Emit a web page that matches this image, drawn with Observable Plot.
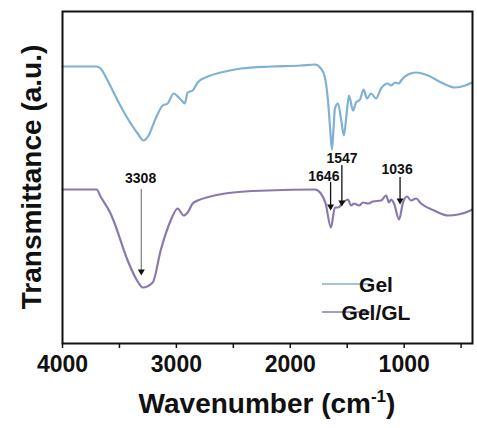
<!DOCTYPE html>
<html>
<head>
<meta charset="utf-8">
<script src="https://cdn.jsdelivr.net/npm/d3@7"></script>
<script src="https://cdn.jsdelivr.net/npm/@observablehq/plot@0.6"></script>
<style>
  html, body { margin: 0; padding: 0; background: #fff; }
  #chart { position: relative; width: 477px; height: 428px; }
  svg { font-family: Arial, "Liberation Sans", sans-serif; }
</style>
</head>
<body>
<div id="chart"></div>
<script>
// ---- data ----
const gelWavenumber = [4000, 3700, 3666, 3604, 3516, 3428, 3340, 3288, 3244, 3182, 3120, 3077, 3024, 2980, 2945, 2927, 2901, 2857, 2813, 2725, 2610, 2434, 2171, 1907, 1784, 1731, 1700, 1669, 1650, 1634, 1620, 1608, 1581, 1555, 1529, 1505, 1485, 1449, 1423, 1388, 1356, 1326, 1291, 1247, 1203, 1142, 1115, 1080, 1045, 1027, 966, 895, 790, 675, 552, 464, 403];
const gelTransmittance = [277, 277, 275, 263, 243, 225, 210, 203, 208, 225, 238, 240, 250, 246, 242, 240, 251, 253, 261, 267, 271, 275, 277, 278, 279, 275, 268, 243, 215, 194, 215, 235, 240, 225, 208, 230, 248, 233, 241, 244, 254, 245, 250, 245, 255, 260, 258, 261, 260, 263, 269, 271, 268, 261, 256, 258, 261];

const gelGLWavenumber = [4000, 3700, 3666, 3578, 3552, 3428, 3340, 3296, 3208, 3138, 3050, 2989, 2936, 2901, 2857, 2813, 2700, 2500, 2200, 1784, 1731, 1690, 1643, 1608, 1580, 1537, 1493, 1466, 1440, 1396, 1361, 1317, 1273, 1203, 1159, 1133, 1115, 1089, 1045, 1010, 975, 940, 895, 852, 737, 614, 526, 438, 403];
const gelGLTransmittance = [154, 154, 147, 130, 123, 83, 62, 56, 61, 93, 123, 135, 128, 131, 140, 143, 147, 151, 153, 154, 150, 140, 116, 136, 136, 141, 144, 138, 140, 138, 141, 140, 142, 143, 148, 141, 144, 140, 124, 141, 147, 143, 145, 140, 133, 128, 129, 132, 134];

const seriesNames = ["Gel", "Gel/GL"];
const seriesColors = ["#7fb1d6", "#8b79ad"];

const peakLabels = ["3308", "1646", "1547", "1036"];
const peakWavenumber = [3308, 1646, 1547, 1036];
const arrowTop = [154, 161, 178, 166];
const arrowTip = [72, 137, 141, 143];
const labelWavenumber = [3314, 1705, 1546, 1062];
const labelLevel = [165, 167, 185, 174];
const arrowColors = ["#8a8a8a", "#111", "#111", "#111"];

const xTicks = [4000, 3500, 3000, 2500, 2000, 1500, 1000, 500];

// ---- build tables ----
const gel = gelWavenumber.map((w, i) => ({wn: w, t: gelTransmittance[i]}));
const gelGL = gelGLWavenumber.map((w, i) => ({wn: w, t: gelGLTransmittance[i]}));
const peaks = peakLabels.map((l, i) => ({
  label: l, wn: peakWavenumber[i], top: arrowTop[i], tip: arrowTip[i],
  lwn: labelWavenumber[i], ly: labelLevel[i], color: arrowColors[i]
}));

const plot = Plot.plot({
  width: 477,
  height: 428,
  marginLeft: 62,
  marginRight: 5,
  marginTop: 11,
  marginBottom: 85,
  style: {fontFamily: "Arial, 'Liberation Sans', sans-serif", background: "#fff"},
  x: {domain: [4000, 400]},
  y: {domain: [0, 332], axis: null},
  marks: [
    Plot.axisX({
      ticks: xTicks,
      tickFormat: d => d % 1000 === 0 ? String(d) : "",
      tickSize: 5,
      tickPadding: 7,
      fontSize: 23,
      fontWeight: "bold",
      label: null,
      stroke: "#111",
      strokeWidth: 1.5,
      color: "#111"
    }),
    Plot.line(gel, {x: "wn", y: "t", stroke: seriesColors[0], strokeWidth: 2.2, curve: "monotone-x"}),
    Plot.line(gelGL, {x: "wn", y: "t", stroke: seriesColors[1], strokeWidth: 2.2, curve: "monotone-x"}),
    Plot.ruleX(peaks, {x: "wn", y1: "top", y2: "tip", stroke: "color", strokeWidth: 1.3}),
    Plot.dot(peaks, {x: "wn", y: "tip", symbol: "triangle", r: 2.6, fill: "#111", stroke: "none", rotate: 180}),
    Plot.text(peaks, {x: "lwn", y: "ly", text: "label", fontSize: 14, fontWeight: "bold", fill: "#111", lineAnchor: "middle"}),
    Plot.frame({stroke: "#111", strokeWidth: 2})
  ]
});

const svg = d3.select(plot);

// y axis title
svg.append("text")
  .attr("transform", "translate(41,177) rotate(-90)")
  .attr("text-anchor", "middle")
  .attr("font-size", 28)
  .attr("font-weight", "bold")
  .attr("fill", "#111")
  .text("Transmittance (a.u.)");

// x axis title with superscript
const xt = svg.append("text")
  .attr("x", 267)
  .attr("y", 413)
  .attr("text-anchor", "middle")
  .attr("font-size", 28)
  .attr("font-weight", "bold")
  .attr("fill", "#111");
xt.append("tspan").text("Wavenumber (cm");
xt.append("tspan").attr("font-size", 17).attr("dy", -11).text("-1");
xt.append("tspan").attr("dy", 11).text(")");

// legend
const legendY = [284, 312];
seriesNames.forEach((name, i) => {
  svg.append("line")
    .attr("x1", 322).attr("x2", 370)
    .attr("y1", legendY[i]).attr("y2", legendY[i])
    .attr("stroke", seriesColors[i]).attr("stroke-width", 1.5);
  svg.append("text")
    .attr("x", 376).attr("y", legendY[i])
    .attr("dy", "0.36em")
    .attr("font-size", 21)
    .attr("font-weight", "bold")
    .attr("fill", "#111")
    .text(name);
});

document.getElementById("chart").appendChild(plot);
</script>
</body>
</html>
